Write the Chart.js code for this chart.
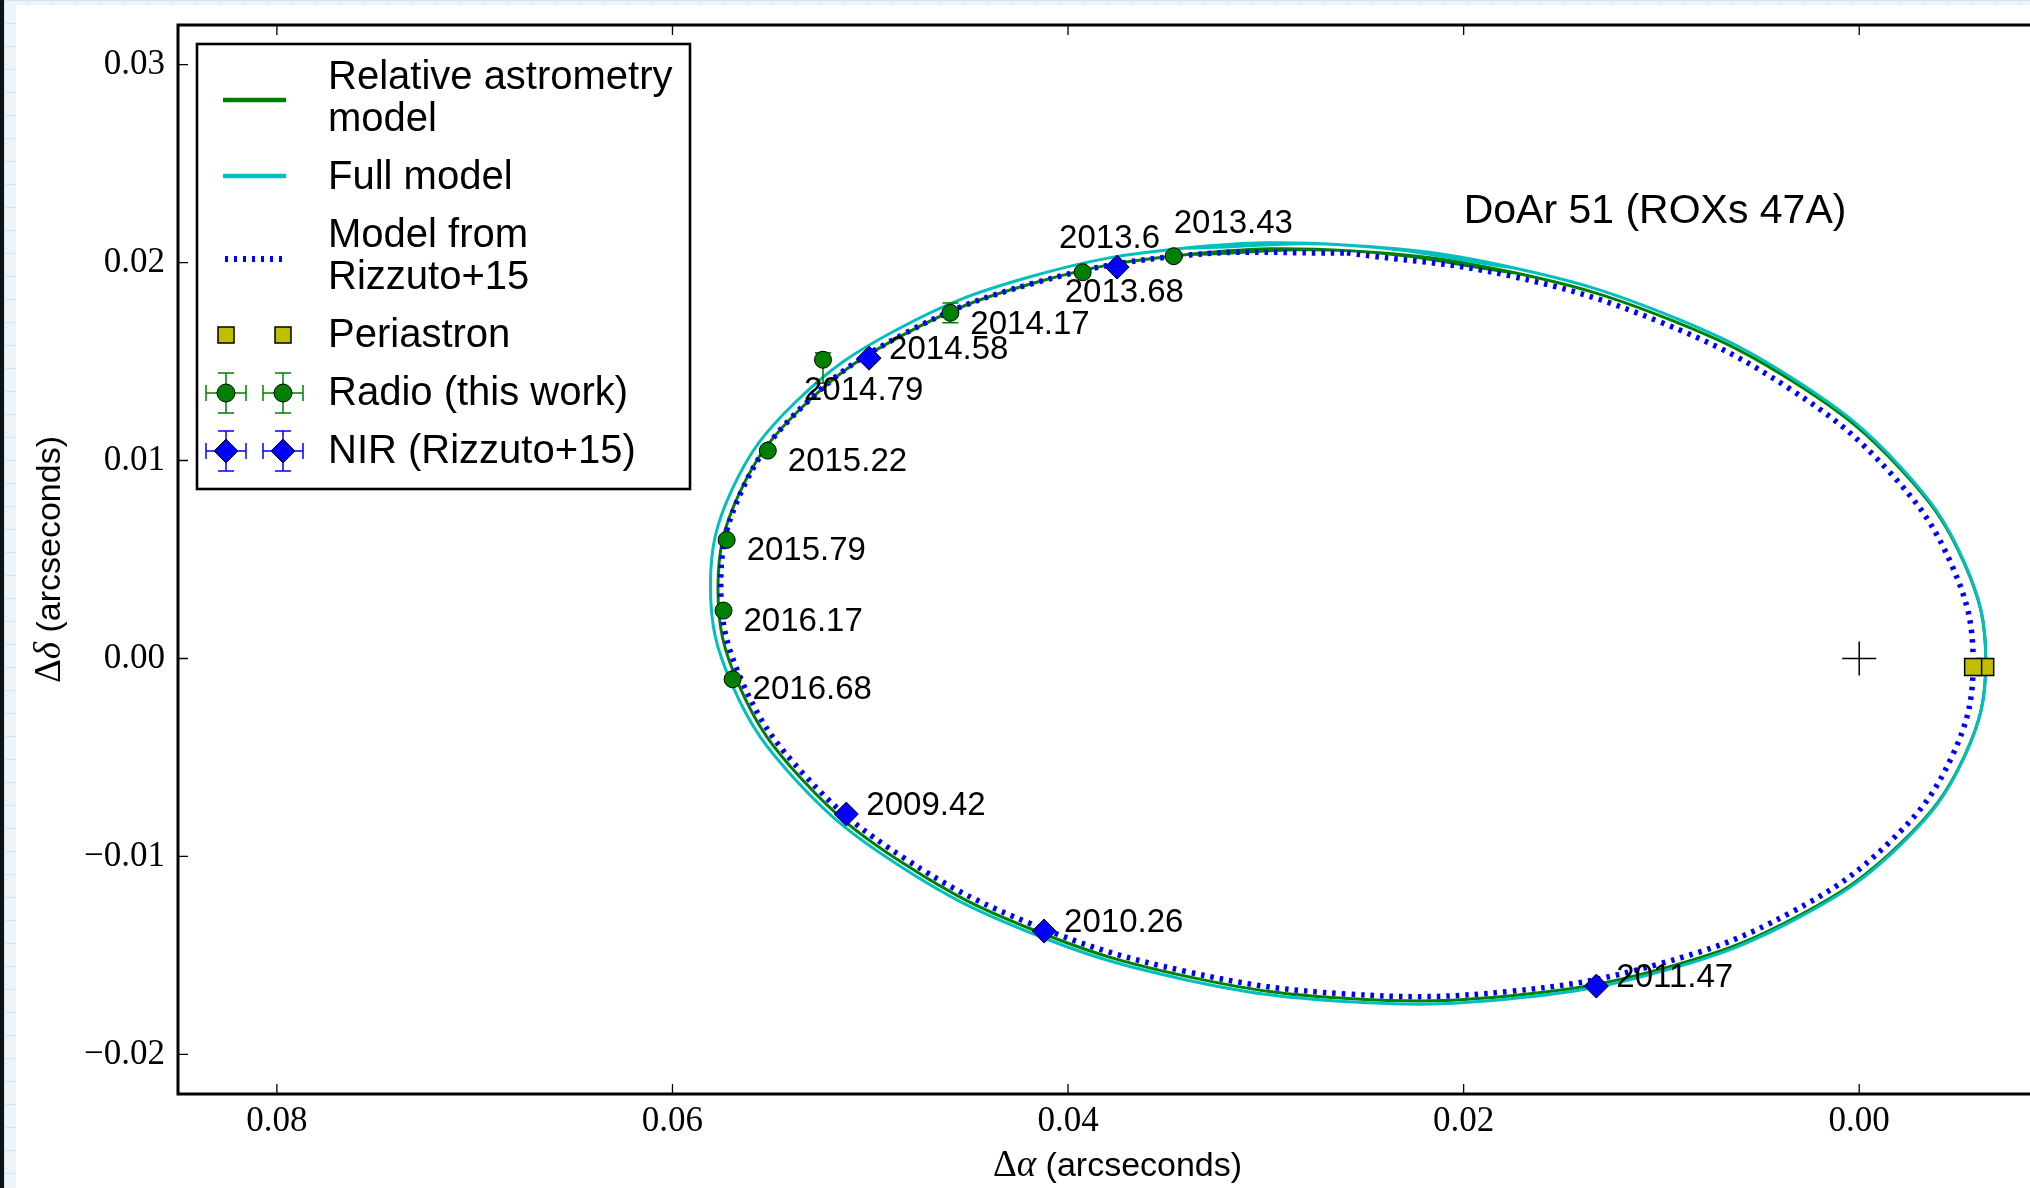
<!DOCTYPE html>
<html>
<head>
<meta charset="utf-8">
<title>DoAr 51 orbit</title>
<script src="https://cdn.jsdelivr.net/npm/chart.js@4.4.1/dist/chart.umd.min.js"></script>
<style>
  html, body { margin: 0; padding: 0; background: #fff; overflow: hidden; }
  #wrap { position: absolute; left: 0; top: 0; width: 2100px; height: 1188px; }
  .paper {
    position: absolute;
    background-color: #eef5fa;
    background-image:
      linear-gradient(#cfe5f1 1px, transparent 1px),
      linear-gradient(90deg, #cfe5f1 1px, transparent 1px);
    background-size: 24px 23px;
  }
  #edgeLeft { left: 4px; top: 0; width: 12px; height: 1188px; }
  #edgeTop { left: 4px; top: 0; width: 2030px; height: 5px; }
  #bar { position: absolute; left: 0; top: 0; width: 4px; height: 1188px; background: #111; }
</style>
</head>
<body>
<div id="wrap"><canvas id="orbit"></canvas></div>
<div id="edgeLeft" class="paper"></div>
<div id="edgeTop" class="paper"></div>
<div id="bar"></div>
<script>
// radio epochs (this work)
const radioLabels = ['2013.43', '2013.68', '2014.17', '2014.79', '2015.22', '2015.79', '2016.17', '2016.68'];
const radioX = [0.03466, 0.03926, 0.04595, 0.05239, 0.05518, 0.05726, 0.05742, 0.05696];
const radioY = [0.02032, 0.01951, 0.01746, 0.01509, 0.01050, 0.00599, 0.00242, -0.00105];
const radioErrLo = [0.0001, 0.0001, 0.0005, 0.00118, 0.0001, 0.0001, 0.0001, 0.0001];
const radioErrHi = [0.0001, 0.0001, 0.0005, 0.00035, 0.0001, 0.0001, 0.0001, 0.0001];

// NIR epochs (Rizzuto+15)
const nirLabels = ['2009.42', '2010.26', '2011.47', '2013.6', '2014.58'];
const nirX = [0.05121, 0.04121, 0.01329, 0.03752, 0.05006];
const nirY = [-0.00786, -0.01377, -0.01655, 0.01977, 0.01517];

// periastron of the two orbit solutions, and the primary
const periX = [-0.00637, -0.00576];
const periY = [-0.00043, -0.00043];
const primaryX = [0];
const primaryY = [0];

// relative astrometry model orbit
const relX = [0.03394, 0.02565, 0.01736, 0.00963, 0.00299, -0.00211, -0.00531, -0.00640, -0.00531, -0.00211,
  0.00299, 0.00963, 0.01736, 0.02565, 0.03394, 0.04168, 0.04831, 0.05341, 0.05661, 0.05770,
  0.05661, 0.05341, 0.04831, 0.04168, 0.03394, 0.02565, 0.01736];
const relY = [0.02041, 0.02059, 0.01947, 0.01714, 0.01376, 0.00955, 0.00482, -0.00013, -0.00496, -0.00933,
  -0.01296, -0.01558, -0.01701, -0.01719, -0.01607, -0.01374, -0.01036, -0.00615, -0.00142, 0.00353,
  0.00836, 0.01273, 0.01636, 0.01898, 0.02041, 0.02059, 0.01947];

// full model orbit
const fullX = [0.03418, 0.02584, 0.01750, 0.00972, 0.00304, -0.00208, -0.00530, -0.00640, -0.00530, -0.00208,
  0.00304, 0.00972, 0.01750, 0.02584, 0.03418, 0.04196, 0.04864, 0.05376, 0.05698, 0.05808,
  0.05698, 0.05376, 0.04864, 0.04196, 0.03418, 0.02584, 0.01750];
const fullY = [0.02072, 0.02088, 0.01974, 0.01737, 0.01394, 0.00969, 0.00489, -0.00013, -0.00501, -0.00943,
  -0.01308, -0.01573, -0.01718, -0.01734, -0.01620, -0.01383, -0.01040, -0.00615, -0.00135, 0.00367,
  0.00855, 0.01297, 0.01662, 0.01927, 0.02072, 0.02088, 0.01974];

// Rizzuto+15 orbit
const rizX = [0.02590, 0.01771, 0.01007, 0.00351, -0.00152, -0.00468, -0.00576, -0.00468, -0.00152, 0.00351,
  0.01007, 0.01771, 0.02590, 0.03409, 0.04173, 0.04829, 0.05332, 0.05648, 0.05756, 0.05648,
  0.05332, 0.04829, 0.04173, 0.03409, 0.02590];
const rizY = [0.02049, 0.01934, 0.01700, 0.01362, 0.00943, 0.00471, -0.00019, -0.00497, -0.00929, -0.01286,
  -0.01542, -0.01682, -0.01695, -0.01580, -0.01346, -0.01008, -0.00589, -0.00117, 0.00373, 0.00851,
  0.01283, 0.01640, 0.01896, 0.02036, 0.02049];

const xTicks = [0.08, 0.06, 0.04, 0.02, 0.00];
const yTicks = [0.03, 0.02, 0.01, 0.00, -0.01, -0.02];

const pts = (xs, ys) => xs.map((x, i) => ({ x: x, y: ys[i] }));

const GREEN = '#008000', CYAN = '#00bfbf', BLUE = '#0000ff', OLIVE = '#bfbf00';
const SANS = '"Liberation Sans", Arial, sans-serif';
const SERIF = '"Liberation Serif", "Times New Roman", serif';

// where each epoch label sits relative to its marker (px)
const labelOffset = {
  '2013.43': [0, -23], '2013.68': [-18, 30], '2014.17': [20, 21], '2014.79': [-19, 40],
  '2015.22': [20, 20], '2015.79': [20, 20], '2016.17': [20, 20], '2016.68': [20, 20],
  '2009.42': [20, 1], '2010.26': [20, 1], '2011.47': [20, 1], '2013.6': [-58, -19], '2014.58': [20, 1]
};

function circle(ctx, x, y, r, fill) {
  ctx.beginPath(); ctx.arc(x, y, r, 0, Math.PI * 2);
  ctx.fillStyle = fill; ctx.fill();
  ctx.lineWidth = 1; ctx.strokeStyle = '#000'; ctx.stroke();
}
function diamond(ctx, x, y, r, fill) {
  ctx.beginPath();
  ctx.moveTo(x, y - r); ctx.lineTo(x + r, y); ctx.lineTo(x, y + r); ctx.lineTo(x - r, y); ctx.closePath();
  ctx.fillStyle = fill; ctx.fill();
  ctx.lineWidth = 1; ctx.strokeStyle = '#000'; ctx.stroke();
}
function square(ctx, x, y, s, fill) {
  ctx.fillStyle = fill; ctx.fillRect(x - s / 2, y - s / 2, s, s);
  ctx.lineWidth = 1.5; ctx.strokeStyle = '#000'; ctx.strokeRect(x - s / 2, y - s / 2, s, s);
}
function errCross(ctx, x, y, h, cap, color) {
  ctx.strokeStyle = color; ctx.lineWidth = 1.5;
  ctx.beginPath();
  ctx.moveTo(x - h, y); ctx.lineTo(x + h, y);
  ctx.moveTo(x, y - h); ctx.lineTo(x, y + h);
  ctx.moveTo(x - h, y - cap); ctx.lineTo(x - h, y + cap);
  ctx.moveTo(x + h, y - cap); ctx.lineTo(x + h, y + cap);
  ctx.moveTo(x - cap, y - h); ctx.lineTo(x + cap, y - h);
  ctx.moveTo(x - cap, y + h); ctx.lineTo(x + cap, y + h);
  ctx.stroke();
}

const extras = {
  id: 'extras',
  beforeDatasetDraw(chart, args) {
    if (args.index !== 0) return;
    // vertical error bars of the radio positions, under the markers
    const { ctx, scales: { x, y } } = chart;
    ctx.save();
    ctx.strokeStyle = GREEN; ctx.lineWidth = 1.6;
    radioX.forEach((v, i) => {
      const px = x.getPixelForValue(v);
      const top = y.getPixelForValue(radioY[i] + radioErrHi[i]);
      const bot = y.getPixelForValue(radioY[i] - radioErrLo[i]);
      ctx.beginPath();
      ctx.moveTo(px, top); ctx.lineTo(px, bot);
      ctx.moveTo(px - 8, top); ctx.lineTo(px + 8, top);
      ctx.moveTo(px - 8, bot); ctx.lineTo(px + 8, bot);
      ctx.stroke();
    });
    ctx.restore();
  },
  afterDatasetsDraw(chart) {
    const { ctx, scales: { x, y } } = chart;
    ctx.save();
    ctx.fillStyle = '#000';
    ctx.textAlign = 'left';
    ctx.textBaseline = 'alphabetic';
    ctx.font = '33px ' + SANS;
    const put = (labels, xs, ys) => labels.forEach((t, i) => {
      const o = labelOffset[t];
      ctx.fillText(t, x.getPixelForValue(xs[i]) + o[0], y.getPixelForValue(ys[i]) + o[1]);
    });
    put(radioLabels, radioX, radioY);
    put(nirLabels, nirX, nirY);
    ctx.font = '41px ' + SANS;
    ctx.fillText('DoAr 51 (ROXs 47A)', x.getPixelForValue(0.02), y.getPixelForValue(0.022));
    ctx.restore();
  },
  afterDraw(chart) {
    const { ctx, chartArea: a, scales: { x, y } } = chart;
    ctx.save();
    // frame and inward ticks
    ctx.strokeStyle = '#000';
    ctx.lineWidth = 3;
    ctx.strokeRect(a.left, a.top, a.right - a.left, a.bottom - a.top);
    ctx.lineWidth = 1.3;
    ctx.beginPath();
    xTicks.forEach(v => {
      const px = x.getPixelForValue(v);
      ctx.moveTo(px, a.bottom); ctx.lineTo(px, a.bottom - 10);
      ctx.moveTo(px, a.top); ctx.lineTo(px, a.top + 10);
    });
    yTicks.forEach(v => {
      const py = y.getPixelForValue(v);
      ctx.moveTo(a.left, py); ctx.lineTo(a.left + 10, py);
      ctx.moveTo(a.right, py); ctx.lineTo(a.right - 10, py);
    });
    ctx.stroke();

    // axis titles: math symbol in serif, unit text in sans
    ctx.fillStyle = '#000';
    ctx.textBaseline = 'alphabetic';
    ctx.textAlign = 'left';
    const title = greek => {
      const parts = [
        { t: '\u0394', f: '37px ' + SERIF },
        { t: greek, f: 'italic 37px ' + SERIF },
        { t: ' (arcseconds)', f: '34px ' + SANS }
      ];
      let w = 0;
      parts.forEach(p => { ctx.font = p.f; p.w = ctx.measureText(p.t).width; w += p.w; });
      return { parts, w };
    };
    const tx = title('\u03b1');
    let cx = (a.left + a.right) / 2 - tx.w / 2;
    tx.parts.forEach(p => { ctx.font = p.f; ctx.fillText(p.t, cx, 1176); cx += p.w; });
    const ty = title('\u03b4');
    ctx.translate(60, (a.top + a.bottom) / 2);
    ctx.rotate(-Math.PI / 2);
    cx = -ty.w / 2;
    ty.parts.forEach(p => { ctx.font = p.f; ctx.fillText(p.t, cx, 0); cx += p.w; });
    ctx.setTransform(1, 0, 0, 1, 0, 0);

    // legend
    const L = 197, T = 44, R = 690, B = 489, hx0 = 223, hx1 = 286, m0 = 226, m1 = 283, tx0 = 328;
    ctx.fillStyle = '#fff';
    ctx.fillRect(L, T, R - L, B - T);
    ctx.lineWidth = 2.6; ctx.strokeStyle = '#000';
    ctx.strokeRect(L, T, R - L, B - T);

    ctx.lineWidth = 4.5;
    ctx.strokeStyle = GREEN;
    ctx.beginPath(); ctx.moveTo(hx0, 100); ctx.lineTo(hx1, 100); ctx.stroke();
    ctx.strokeStyle = CYAN;
    ctx.beginPath(); ctx.moveTo(hx0, 176); ctx.lineTo(hx1, 176); ctx.stroke();
    ctx.strokeStyle = BLUE; ctx.lineWidth = 6; ctx.setLineDash([3, 6]);
    ctx.beginPath(); ctx.moveTo(hx0 + 2, 259); ctx.lineTo(hx1, 259); ctx.stroke();
    ctx.setLineDash([]);

    square(ctx, m0, 335, 16, OLIVE);
    square(ctx, m1, 335, 16, OLIVE);
    [m0, m1].forEach(mx => { errCross(ctx, mx, 393, 20, 8, GREEN); circle(ctx, mx, 393, 9, GREEN); });
    [m0, m1].forEach(mx => { errCross(ctx, mx, 451, 20, 8, BLUE); diamond(ctx, mx, 451, 12, BLUE); });

    ctx.fillStyle = '#000';
    ctx.font = '40px ' + SANS;
    ctx.textBaseline = 'middle';
    [['Relative astrometry', 78], ['model', 120], ['Full model', 178], ['Model from', 236],
     ['Rizzuto+15', 278], ['Periastron', 336], ['Radio (this work)', 394], ['NIR (Rizzuto+15)', 452]]
      .forEach(([t, yy]) => ctx.fillText(t, tx0, yy));
    ctx.restore();
  }
};

const fmt = v => {
  const s = Math.abs(v).toFixed(2);
  return v < -1e-9 ? '\u2212' + s : s;
};

new Chart(document.getElementById('orbit'), {
  type: 'scatter',
  data: {
    datasets: [
      { label: 'Radio (this work)', data: pts(radioX, radioY), order: 1,
        pointStyle: 'circle', pointRadius: 8.5, backgroundColor: GREEN, borderColor: '#000', borderWidth: 1 },
      { label: 'NIR (Rizzuto+15)', data: pts(nirX, nirY), order: 0,
        pointStyle: 'rectRot', pointRadius: 12, backgroundColor: BLUE, borderColor: '#000', borderWidth: 1 },
      { label: 'Periastron', data: pts(periX, periY), order: 2,
        pointStyle: 'rect', pointRadius: 12, backgroundColor: OLIVE, borderColor: '#000', borderWidth: 1.5 },
      { label: 'Primary', data: pts(primaryX, primaryY), order: 3,
        pointStyle: 'cross', pointRadius: 17, borderColor: '#000', borderWidth: 1.5 },
      { label: 'Model from Rizzuto+15', data: pts(rizX, rizY), order: 4, showLine: true,
        pointRadius: 0, borderColor: BLUE, borderWidth: 5.5, borderDash: [3.5, 6], tension: 0.4 },
      { label: 'Full model', data: pts(fullX, fullY), order: 5, showLine: true,
        pointRadius: 0, borderColor: CYAN, borderWidth: 3, tension: 0.4 },
      { label: 'Relative astrometry model', data: pts(relX, relY), order: 6, showLine: true,
        pointRadius: 0, borderColor: GREEN, borderWidth: 3, tension: 0.4 }
    ]
  },
  options: {
    responsive: true,
    maintainAspectRatio: false,
    animation: false,
    events: [],
    layout: { padding: { top: 25, right: 43, left: 0, bottom: 0 } },
    plugins: { legend: { display: false }, tooltip: { enabled: false } },
    scales: {
      x: {
        type: 'linear', reverse: true, min: -0.01, max: 0.085,
        grid: { display: false, drawTicks: false }, border: { display: false },
        afterBuildTicks: s => { s.ticks = xTicks.map(v => ({ value: v })); },
        afterFit: s => { s.height = 94; s.paddingLeft = 0; s.paddingRight = 0; },
        ticks: { color: '#000', padding: 7, maxRotation: 0, font: { family: 'Liberation Serif', size: 35 }, callback: fmt }
      },
      y: {
        type: 'linear', min: -0.022, max: 0.032,
        grid: { display: false, drawTicks: false }, border: { display: false },
        afterBuildTicks: s => { s.ticks = yTicks.map(v => ({ value: v })); },
        afterFit: s => { s.width = 178; s.paddingTop = 0; s.paddingBottom = 0; },
        ticks: { color: '#000', padding: 13, font: { family: 'Liberation Serif', size: 35 }, callback: fmt }
      }
    }
  },
  plugins: [extras]
});
</script>
</body>
</html>
